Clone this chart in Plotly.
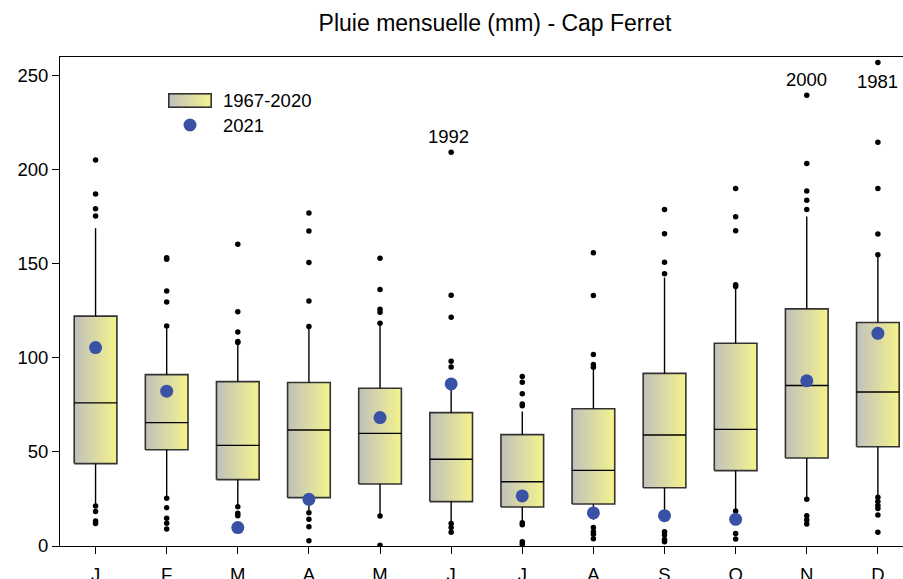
import base64
import plotly.graph_objects as go

# ---------------- data ----------------
month_labels = ["J", "F", "M", "A", "M", "J", "J", "A", "S", "O", "N", "D"]
q1 = [43.8, 51.2, 35.3, 25.7, 33.0, 23.6, 20.7, 22.3, 31.0, 40.1, 46.8, 52.8]
median = [76.1, 65.6, 53.5, 61.7, 59.9, 46.1, 34.2, 40.2, 59.0, 62.0, 85.3, 81.9]
q3 = [122.2, 91.1, 87.4, 86.9, 83.9, 70.9, 59.2, 73.0, 91.8, 107.8, 126.1, 118.8]
whisker_low = [22.0, 26.0, 21.3, 18.0, 16.0, 12.0, 12.4, 14.0, 15.0, 18.6, 24.8, 25.9]
whisker_high = [169.0, 116.0, 108.0, 116.7, 118.4, 88.0, 71.5, 93.6, 142.7, 138.0, 175.2, 154.8]
outliers = [
    [205.3, 187.1, 179.3, 175.5, 21.3, 18.3, 13.3, 12.0],
    [153.2, 152.5, 135.6, 129.8, 117.0, 25.4, 20.4, 14.7, 12.1, 9.0],
    [160.5, 124.5, 113.8, 108.7, 108.2, 20.9, 17.4, 16.1],
    [177.0, 167.5, 150.7, 130.3, 116.7, 17.7, 14.2, 10.3, 2.8],
    [153.0, 136.4, 125.9, 124.3, 118.4, 16.0, 0.4],
    [209.4, 133.3, 121.6, 98.2, 95.2, 12.0, 9.8, 7.3],
    [90.1, 87.1, 81.0, 75.5, 74.6, 12.4, 11.3, 2.3, 0.9],
    [155.9, 133.2, 101.8, 96.5, 95.0, 9.8, 7.6, 6.2, 3.9],
    [178.9, 166.0, 150.9, 144.8, 7.6, 5.9, 3.5, 2.3],
    [190.1, 175.0, 167.6, 138.9, 138.0, 18.6, 6.7, 3.7],
    [239.7, 203.4, 188.8, 183.9, 178.9, 24.8, 16.1, 13.8, 11.7],
    [257.1, 214.7, 190.1, 165.9, 154.8, 25.9, 23.6, 21.6, 20.0, 16.5, 7.3],
]
rain_2021 = [105.5, 82.3, 9.8, 24.8, 68.3, 86.2, 26.6, 17.6, 16.1, 14.2, 87.8, 113.1]
y_ticks = [0, 50, 100, 150, 200, 250]

label_years = ["1992", "2000", "1981"]
label_month = [5, 10, 11]
label_value = [209.4, 239.7, 257.1]
label_above = [True, True, False]

title_text = "Pluie mensuelle (mm) - Cap Ferret"
legend_labels = ["1967-2020", "2021"]

# ---------------- style ----------------
FONT = "Liberation Sans, Arial, sans-serif"
GRAD = [[0, "rgb(192,192,188)"], [1, "rgb(245,243,140)"]]
BLUE = "#3a52a6"
EDGE = "#333333"
HALF = 0.3
FS = 18.5
W, H = 903, 579
ML, MR, MT, MB = 60, 0, 57, 33
PW, PH = W - ML - MR, H - MT - MB

fig = go.Figure()
xs = list(range(len(month_labels)))

# boxes with horizontal gradient
for i in xs:
    fig.add_trace(go.Scatter(
        x=[i - HALF, i + HALF, i + HALF, i - HALF, i - HALF],
        y=[q1[i], q1[i], q3[i], q3[i], q1[i]],
        mode="lines", fill="toself",
        fillgradient=dict(type="horizontal", colorscale=GRAD),
        line=dict(color=EDGE, width=1.6),
        showlegend=False, hoverinfo="skip"))

# whiskers
wx, wy = [], []
for i in xs:
    wx += [i, i, None, i, i, None]
    wy += [q3[i], whisker_high[i], None, q1[i], whisker_low[i], None]
fig.add_trace(go.Scatter(x=wx, y=wy, mode="lines",
                         line=dict(color="black", width=1.4),
                         showlegend=False, hoverinfo="skip"))

# medians
mx, my = [], []
for i in xs:
    mx += [i - HALF, i + HALF, None]
    my += [median[i], median[i], None]
fig.add_trace(go.Scatter(x=mx, y=my, mode="lines",
                         line=dict(color="black", width=1.4),
                         showlegend=False, hoverinfo="skip"))

# outliers
ox, oy = [], []
for i in xs:
    for v in outliers[i]:
        ox.append(i)
        oy.append(v)
fig.add_trace(go.Scatter(x=ox, y=oy, mode="markers",
                         marker=dict(color="black", size=5.5, symbol="circle"),
                         showlegend=False, hoverinfo="skip"))

# 2021
fig.add_trace(go.Scatter(x=xs, y=rain_2021, mode="markers",
                         marker=dict(color=BLUE, size=13, line=dict(width=0)),
                         showlegend=False, hoverinfo="skip"))

# year labels
for yr, m, v, above in zip(label_years, label_month, label_value, label_above):
    fig.add_annotation(x=m, y=v, text=yr, showarrow=False,
                       yshift=16 if above else -19, xshift=-3 if m == 5 else 0,
                       font=dict(family=FONT, size=FS, color="black"))

# custom legend
def px_x(p):
    return (p - ML) / PW

def px_y(p):
    return (H - MB - p) / PH

svg = ('<svg xmlns="http://www.w3.org/2000/svg" width="44" height="15" viewBox="0 0 44 15" '
       'preserveAspectRatio="none"><defs><linearGradient id="g" x1="0" x2="1" y1="0" y2="0">'
       '<stop offset="0" stop-color="rgb(192,192,188)"/><stop offset="1" stop-color="rgb(245,243,140)"/>'
       '</linearGradient></defs><rect x="0.8" y="0.8" width="42.4" height="13.4" fill="url(#g)" '
       'stroke="#333333" stroke-width="1.6"/></svg>')
src = "data:image/svg+xml;base64," + base64.b64encode(svg.encode()).decode()
fig.add_layout_image(source=src, xref="paper", yref="paper",
                     x=px_x(168), y=px_y(93), sizex=44 / PW, sizey=15 / PH,
                     xanchor="left", yanchor="top", sizing="stretch", layer="above")
fig.add_shape(type="circle", xref="paper", yref="paper",
              xsizemode="pixel", ysizemode="pixel",
              xanchor=px_x(190), yanchor=px_y(125),
              x0=-6.5, x1=6.5, y0=-6.5, y1=6.5,
              fillcolor=BLUE, line=dict(width=0))
fig.add_annotation(x=px_x(221), y=px_y(100.5), xref="paper", yref="paper",
                   text=legend_labels[0], showarrow=False, xanchor="left",
                   yanchor="middle",
                   font=dict(family=FONT, size=FS, color="black"))
fig.add_annotation(x=px_x(221), y=px_y(125), xref="paper", yref="paper",
                   text=legend_labels[1], showarrow=False, xanchor="left",
                   yanchor="middle",
                   font=dict(family=FONT, size=FS, color="black"))

fig.update_layout(
    width=W, height=H,
    margin=dict(l=ML, r=MR, t=MT, b=MB, pad=0, autoexpand=False),
    paper_bgcolor="white", plot_bgcolor="white",
    font=dict(family=FONT, size=FS, color="black"),
    title=dict(text=title_text, x=(495 - ML) / PW, xref="paper", xanchor="center",
               y=1 - 23 / H, yref="container", yanchor="middle",
               font=dict(family=FONT, size=23, color="black")),
    showlegend=False,
    xaxis=dict(range=[-0.5, -0.5 + PW / 71.12], tickmode="array", tickvals=xs,
               ticktext=month_labels, ticks="outside", ticklen=7, tickwidth=1,
               tickcolor="black", showline=True, linecolor="black", linewidth=1,
               mirror=True, showgrid=False, zeroline=False, fixedrange=True,
               automargin=False, tickfont=dict(size=FS), ticklabelstandoff=5),
    yaxis=dict(range=[0, 260], tickmode="array", tickvals=y_ticks,
               ticks="outside", ticklen=7, tickwidth=1, tickcolor="black",
               showline=True, linecolor="black", linewidth=1, showgrid=False,
               zeroline=False, fixedrange=True, automargin=False,
               tickfont=dict(size=FS)),
)

fig.write_html("out.html", config={"displayModeBar": False},
               post_script="document.body.style.margin='0px';document.body.style.overflow='hidden';")
